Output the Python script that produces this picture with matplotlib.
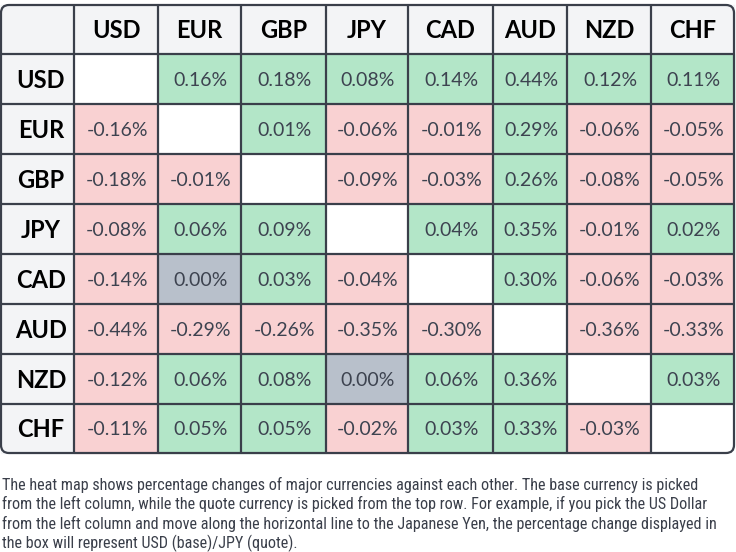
import numpy as np
import matplotlib
matplotlib.use('Agg')
import matplotlib.pyplot as plt
from matplotlib.patches import Rectangle, FancyBboxPatch
from matplotlib import font_manager

# Dados do heat map (linha = moeda base, coluna = moeda cotada)
moedas = ['USD', 'EUR', 'GBP', 'JPY', 'CAD', 'AUD', 'NZD', 'CHF']
valores = np.array([
    [np.nan, 0.16, 0.18, 0.08, 0.14, 0.44, 0.12, 0.11],
    [-0.16, np.nan, 0.01, -0.06, -0.01, 0.29, -0.06, -0.05],
    [-0.18, -0.01, np.nan, -0.09, -0.03, 0.26, -0.08, -0.05],
    [-0.08, 0.06, 0.09, np.nan, 0.04, 0.35, -0.01, 0.02],
    [-0.14, 0.00, 0.03, -0.04, np.nan, 0.30, -0.06, -0.03],
    [-0.44, -0.29, -0.26, -0.35, -0.30, np.nan, -0.36, -0.33],
    [-0.12, 0.06, 0.08, 0.00, 0.06, 0.36, np.nan, 0.03],
    [-0.11, 0.05, 0.05, -0.02, 0.03, 0.33, -0.03, np.nan],
])
rodape = ["The heat map shows percentage changes of major currencies against each other. The base currency is picked",
          "from the left column, while the quote currency is picked from the top row. For example, if you pick the US Dollar",
          "from the left column and move along the horizontal line to the Japanese Yen, the percentage change displayed in",
          "the box will represent USD (base)/JPY (quote)."]

# Geometria da tabela (em pixels)
xs = [1, 74, 158, 241, 326, 408, 493, 567, 651, 734]
ys = [5, 54, 104, 154, 204, 254, 304, 354, 404, 453]

verde = '#b3e6c8'
vermelho = '#f9d1d2'
cinza = '#b8c0cb'
fundo_cab = '#f3f4f6'
borda = '#3a3f4a'

nomes = {f.name for f in font_manager.fontManager.ttflist}
fonte = 'Lato' if 'Lato' in nomes else 'DejaVu Sans'

# Procura uma fonte condensada para o rodapé
estreitas = [f for f in font_manager.fontManager.ttflist
             if ('condensed' in str(f.stretch).lower() or 'Condensed' in f.fname or 'Narrow' in f.fname)
             and f.weight in (400, 'normal', 'regular') and f.style == 'normal']
preferidas = ['Open Sans', 'Roboto', 'Noto Sans', 'Liberation Sans Narrow', 'DejaVu Sans']
props_rodape = None
for p in preferidas:
    for f in estreitas:
        if f.name.startswith(p):
            props_rodape = font_manager.FontProperties(fname=f.fname)
            break
    if props_rodape is not None:
        break
if props_rodape is None and estreitas:
    props_rodape = font_manager.FontProperties(fname=estreitas[0].fname)
if props_rodape is None:
    props_rodape = font_manager.FontProperties(family=fonte)

fig = plt.figure(figsize=(7.36, 5.52), dpi=100)
ax = fig.add_axes([0, 0, 1, 1])
ax.set_xlim(0, 736)
ax.set_ylim(552, 0)
ax.axis('off')

# Fundo dos cabeçalhos
ax.add_patch(Rectangle((xs[0], ys[0]), xs[-1] - xs[0], ys[1] - ys[0], color=fundo_cab, zorder=1))
ax.add_patch(Rectangle((xs[0], ys[0]), xs[1] - xs[0], ys[-1] - ys[0], color=fundo_cab, zorder=1))

# Células
for i in range(len(moedas)):
    for j in range(len(moedas)):
        x0, x1 = xs[j + 1], xs[j + 2]
        y0, y1 = ys[i + 1], ys[i + 2]
        v = valores[i, j]
        if np.isnan(v):
            cor = 'white'
        elif v > 0:
            cor = verde
        elif v < 0:
            cor = vermelho
        else:
            cor = cinza
        ax.add_patch(Rectangle((x0, y0), x1 - x0, y1 - y0, color=cor, zorder=1))
        if not np.isnan(v):
            ax.text((x0 + x1) / 2 + 1, (y0 + y1) / 2 + 1, f'{v:.2f}%', ha='center', va='center',
                    fontsize=14, color='#3d4350', family=fonte, zorder=3)

# Cabeçalhos
for k, m in enumerate(moedas):
    ax.text((xs[k + 1] + xs[k + 2]) / 2, (ys[0] + ys[1]) / 2 + 1, m, ha='center', va='center',
            fontsize=17, fontweight='bold', color='black', family=fonte, zorder=3)
    ax.text(41, (ys[k + 1] + ys[k + 2]) / 2 + 1, m, ha='center', va='center',
            fontsize=17, fontweight='bold', color='black', family=fonte, zorder=3)

# Linhas da grade
for x in xs[1:-1]:
    ax.plot([x, x], [ys[0], ys[-1]], color=borda, lw=1.6, zorder=2, solid_capstyle='butt')
for y in ys[1:-1]:
    ax.plot([xs[0], xs[-1]], [y, y], color=borda, lw=1.6, zorder=2, solid_capstyle='butt')

# Borda externa arredondada
ax.add_patch(FancyBboxPatch((xs[0], ys[0]), xs[-1] - xs[0], ys[-1] - ys[0],
                            boxstyle='round,pad=0,rounding_size=8', fill=False,
                            edgecolor=borda, lw=1.6, zorder=4))

# Texto explicativo (uma linha por vez)
linhas = []
for n, linha in enumerate(rodape):
    t = ax.text(2, 490 + n * 19.3, linha, ha='left', va='baseline', color='#3a3f4a',
                fontproperties=props_rodape, fontsize=12)
    linhas.append(t)

# Ajusta o tamanho para a primeira linha terminar perto de x=700
fig.canvas.draw()
larg = linhas[0].get_window_extent().width
for t in linhas:
    t.set_fontsize(12 * 698 / larg)

fig.savefig('out.png', dpi=100)
